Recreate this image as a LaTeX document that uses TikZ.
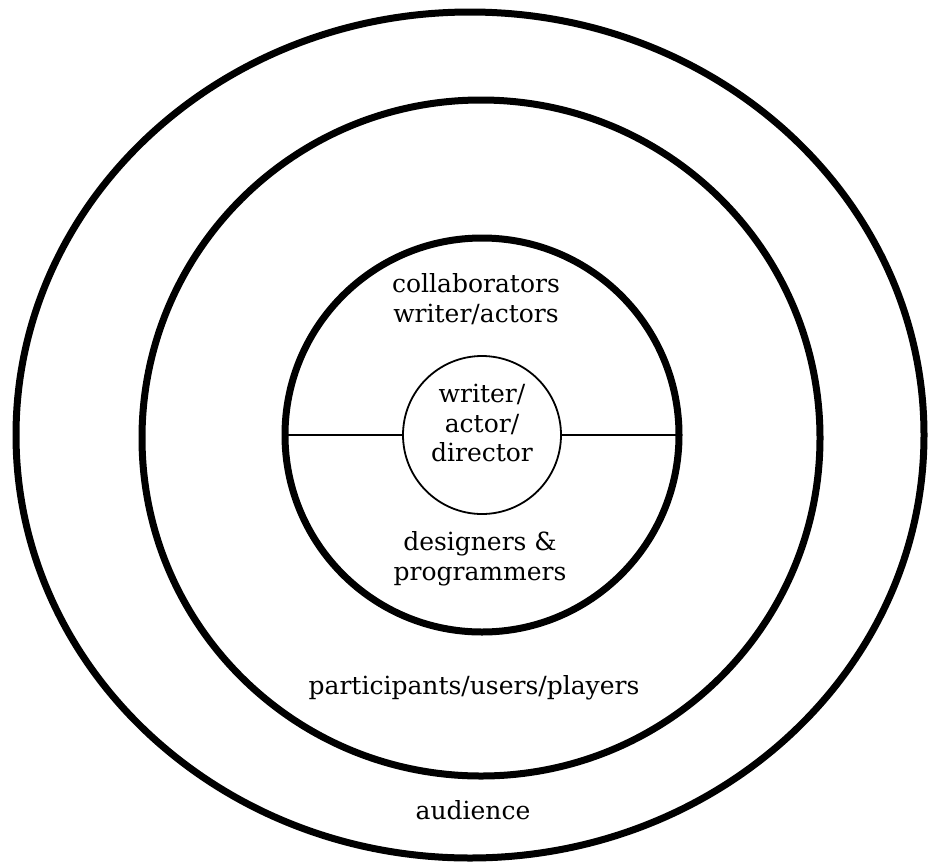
\documentclass[tikz,border=0pt]{standalone}
\usepackage{fontspec}
\setmainfont{DejaVu Serif}
\begin{document}
\begin{tikzpicture}[x=1pt,y=-1pt,
  ring/.style={draw=black,line width=7pt},
  core/.style={draw=black,line width=1.8pt,circle,minimum size=158pt,inner sep=0pt},
  divider/.style={draw=black,line width=1.8pt},
  label/.style={font=\fontsize{25}{29.5}\selectfont,align=center,text=black}]
  \useasboundingbox (0,0) rectangle (928,865);
  % concentric rings
  \draw[ring] (470,435) ellipse[x radius=454,y radius=423];
  \draw[ring] (481,438) ellipse[x radius=339,y radius=338];
  \draw[ring] (482,435) circle[radius=197];
  \coordinate (ringL) at (285,435);
  \coordinate (ringR) at (679,435);
  % centre
  \node[core] (centre) at (482,435) {};
  \draw[divider] (ringL) -- (centre.west);
  \draw[divider] (centre.east) -- (ringR);
  % labels
  \node[label] (centretxt) at (482,423) {writer/\\actor/\\director};
  \node[label] (collab) at (476,299) {collaborators\\writer/actors};
  \node[label] (design) at (480,559) {designers \&\\programmers};
  \node[label] (parts) at (474,688) {participants/users/players};
  \node[label] (aud) at (473,810) {audience};
\end{tikzpicture}
\end{document}
